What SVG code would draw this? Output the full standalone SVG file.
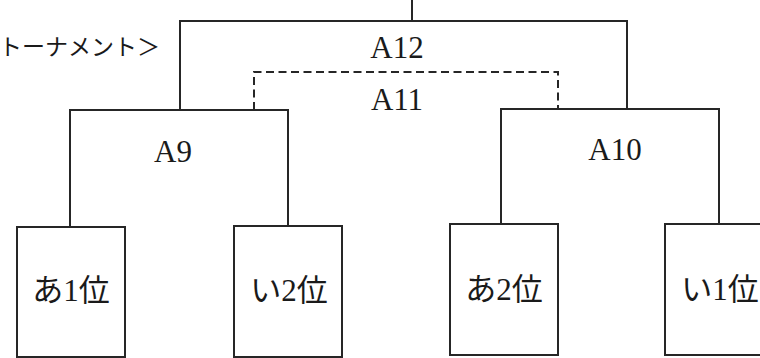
<svg xmlns="http://www.w3.org/2000/svg" width="760" height="358" viewBox="0 0 760 358">
<style>
.ln{fill:none;stroke:#262626;stroke-width:2}
.dash{fill:none;stroke:#262626;stroke-width:2;stroke-dasharray:8 4.5}
.box{fill:#fff;stroke:#262626;stroke-width:2}
.lab{font-family:"Liberation Serif","Noto Sans CJK JP",serif;font-size:31px;fill:#1a1a1a;text-anchor:middle}
.jp{font-family:"Liberation Serif","Noto Sans CJK JP",serif;font-size:31px;fill:#1a1a1a;text-anchor:middle}
.title{font-family:"Noto Sans CJK JP",sans-serif;font-size:23px;fill:#1a1a1a;text-anchor:end}
</style>
<rect width="760" height="358" fill="#fff"/>
<text class="title" x="160" y="55">トーナメント＞</text>
<g id="connectors">
<path class="ln" d="M412,0 V21"/>
<path class="ln" d="M180,110 V21 H627 V109"/>
<path class="dash" d="M254,110 V72 H558 V109"/>
<path class="ln" d="M70,227 V110 H288 V226"/>
<path class="ln" d="M501,224 V109 H719 V224"/>
</g>
<g id="A12"><text class="lab" x="397" y="58">A12</text></g>
<g id="A11"><text class="lab" x="397" y="110">A11</text></g>
<g id="A9"><text class="lab" x="173" y="162">A9</text></g>
<g id="A10"><text class="lab" x="615" y="160">A10</text></g>
<g id="a1"><rect class="box" x="17" y="227" width="108" height="130"/><text class="jp" x="71" y="301">あ1位</text></g>
<g id="i2"><rect class="box" x="234" y="226" width="108" height="131"/><text class="jp" x="289" y="301">い2位</text></g>
<g id="a2"><rect class="box" x="450" y="224" width="108" height="131"/><text class="jp" x="504" y="300">あ2位</text></g>
<g id="i1"><rect class="box" x="665" y="224" width="108" height="131"/><text class="jp" x="720" y="300">い1位</text></g>
</svg>
